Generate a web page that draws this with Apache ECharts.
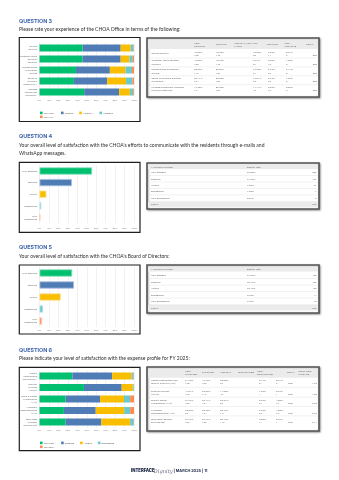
<!DOCTYPE html>
<html>
<head>
<meta charset="utf-8">
<title>CHOA Survey – Questions 3 to 6</title>
<script src="https://cdn.jsdelivr.net/npm/echarts@6/dist/echarts.min.js"></script>
<style>
  html, body { margin: 0; padding: 0; background: #ffffff; }
  #page { width: 339px; height: 480px; }
</style>
</head>
<body>
<div id="page"></div>
<script>
// ---------- Question 3: experience of the CHOA Office ----------
const q3Items = [
  'Service delivery',
  'Customer focus and staff courtesy',
  'Effectiveness of problem solving',
  'Speed in solving a problem or solution',
  'Keeping community informed (emails/WhatsApp)'
];
const q3Levels = ['Very Positive', 'Positive', 'Neutral / Do not know', 'Negative', 'Very Negative'];
const q3Headers = ['VERY\nPOSITIVE', 'POSITIVE', 'NEUTRAL / DO NOT\nKNOW', 'NEGATIVE', 'VERY\nNEGATIVE', 'TOTAL'];
const q3VeryPositive = [45.65, 45.65, 38.59, 36.41, 47.28];
const q3Positive     = [40.22, 40.22, 35.87, 35.33, 36.96];
const q3Neutral      = [10.60,  9.24, 16.58, 19.84, 11.41];
const q3Negative     = [ 2.99,  3.53,  6.79,  6.79,  3.53];
const q3VeryNegative = [ 0.54,  1.36,  2.17,  1.63,  0.82];
const q3VeryPositiveN = [168, 168, 142, 134, 174];
const q3PositiveN     = [148, 148, 132, 130, 136];
const q3NeutralN      = [ 39,  34,  61,  73,  42];
const q3NegativeN     = [ 11,  13,  25,  25,  13];
const q3VeryNegativeN = [  2,   5,   8,   6,   3];
const q3Totals = [368, 368, 368, 368, 368];

// ---------- Question 4: communication via e-mail and WhatsApp ----------
const satisfactionLevels = ['Very Satisfied', 'Satisfied', 'Neutral', 'Dissatisfied', 'Very Dissatisfied'];
const q4Percent = [55.68, 34.32, 7.30, 1.89, 0.81];
const q4Count = [206, 127, 27, 7, 3];
const q4Total = 370;

// ---------- Question 5: Board of Directors ----------
const q5Percent = [34.59, 36.49, 22.43, 3.78, 2.70];
const q5Count = [128, 135, 83, 14, 10];
const q5Total = 370;

// ---------- Question 6: expense profile for FY 2025 ----------
const q6Items = [
  'Capital contribution and reserve fund levy (2%)',
  'Security services (40.2%)',
  'Sport & Estate Maintenance (14%)',
  'Municipal Responsibilities (11%)',
  'Staff costs (Leasing, Services etc)'
];
const q6Headers = ['VERY\nSATISFIED', 'SATISFIED', 'NEUTRAL', 'DISSATISFIED', 'VERY\nDISSATISFIED', 'TOTAL', 'WEIGHTED\nAVERAGE'];
const q6VerySatisfied    = [34.78, 47.01, 27.72, 25.82, 27.72];
const q6Satisfied        = [42.12, 39.95, 36.41, 33.70, 37.77];
const q6Neutral          = [20.38, 11.68, 25.27, 30.16, 30.43];
const q6Dissatisfied     = [ 2.17,  1.09,  6.52,  6.25,  3.80];
const q6VeryDissatisfied = [ 0.54,  0.27,  4.08,  4.08,  0.27];
const q6VerySatisfiedN    = [128, 173, 102,  95, 102];
const q6SatisfiedN        = [155, 147, 134, 124, 139];
const q6NeutralN          = [ 75,  43,  93, 111, 112];
const q6DissatisfiedN     = [  8,   4,  24,  23,  14];
const q6VeryDissatisfiedN = [  2,   1,  15,  15,   1];
const q6Totals = [368, 368, 368, 368, 368];
const q6Weighted = [1.92, 1.68, 2.23, 2.29, 2.11];

const axisTicks = ['0%', '10%', '20%', '30%', '40%', '50%', '60%', '70%', '80%', '90%', '100%'];

// ---------- styling ----------
const palette = ['#00bf6f', '#507cb6', '#f9be00', '#6bc8cd', '#ff8b4f'];
const paletteEdge = ['#86e2ba', '#a9c0de', '#fde08a', '#b6e4e7', '#ffc5a8'];
const FONT = 'Lato, "Noto Sans", sans-serif';
const HEAD_FONT = 'Inter, "Noto Sans", sans-serif';
const TINY = 2.5;

function wrap(text, maxLen, maxLines) {
  const words = text.split(' ');
  const lines = [];
  let cur = '';
  words.forEach(w => {
    if (cur && (cur + ' ' + w).length > maxLen) { lines.push(cur); cur = w; }
    else cur = cur ? cur + ' ' + w : w;
  });
  if (cur) lines.push(cur);
  if (maxLines && lines.length > maxLines) {
    const kept = lines.slice(0, maxLines);
    kept[maxLines - 1] += '...';
    return kept.join('\n');
  }
  return lines.join('\n');
}
const pct = v => v.toFixed(2) + '%';

function txt(x, y, text, o) {
  o = o || {};
  const size = o.size || TINY;
  const align = o.align || 'left';
  const valign = o.valign || 'middle';
  return {
    type: 'text', x, y, silent: true, z: 20,
    style: {
      text, fill: o.fill || '#6a6a6a', fontSize: size, fontFamily: o.family || FONT,
      fontWeight: o.weight || 'normal', fontStyle: o.fontStyle || 'normal',
      align, textAlign: align, verticalAlign: valign, textVerticalAlign: valign,
      lineHeight: o.lh || size * 1.25
    }
  };
}
function rect(x, y, w, h, style, z) {
  return { type: 'rect', silent: true, z: z || 5, shape: { x, y, width: w, height: h }, style };
}
function hline(x1, x2, y, color) {
  return { type: 'line', silent: true, z: 8, shape: { x1, y1: y, x2, y2: y },
    style: { stroke: color || '#dcdcdc', lineWidth: 0.4 } };
}
function tableFrame(x, y, w, h) {
  return rect(x, y, w, h, {
    fill: '#ffffff', stroke: '#555555', lineWidth: 1.6,
    shadowBlur: 2, shadowOffsetX: 0.8, shadowOffsetY: 0.8, shadowColor: 'rgba(0,0,0,0.35)'
  }, 4);
}
function chartBox(x, y, w, h) {
  return rect(x, y, w, h, { fill: 'none', stroke: '#1e1e1e', lineWidth: 1.2 }, 30);
}

const g = [];

// ---------- headings ----------
const headingStyle = { size: 5.4, weight: 'bold', fill: '#3f65ab', family: HEAD_FONT };
const subStyle = { size: 5, fill: '#2e2e2e', family: FONT };
g.push(txt(19, 21.7, 'QUESTION 3', headingStyle));
g.push(txt(19, 29.3, 'Please rate your experience of the CHOA Office in terms of the following:', subStyle));
g.push(txt(19, 136.7, 'QUESTION 4', headingStyle));
g.push(txt(19, 149, "Your overall level of satisfaction with the CHOA's efforts to communicate with the residents through e-mails and\nWhatsApp messages.", Object.assign({ lh: 8 }, subStyle)));
g.push(txt(19, 247.7, 'QUESTION 5', headingStyle));
g.push(txt(19, 256.7, "Your overall level of satisfaction with the CHOA's Board of Directors:", subStyle));
g.push(txt(19, 350, 'QUESTION 6', headingStyle));
g.push(txt(19, 358.3, 'Please indicate your level of satisfaction with the expense profile for FY 2025:', subStyle));

// ---------- chart frames ----------
g.push(chartBox(19.3, 37.5, 120.7, 84));
g.push(chartBox(19.3, 162.3, 120.7, 70));
g.push(chartBox(19.3, 265, 120.7, 69));
g.push(chartBox(19.3, 367.3, 120.7, 83.4));

// ---------- Q3 table ----------
(function () {
  const x0 = 147, y0 = 38, w = 172, h = 59;
  g.push(tableFrame(x0, y0, w, h));
  g.push(rect(x0 + 1, y0 + 1.5, w - 2, 9.5, { fill: '#ebebeb' }, 6));
  const hdrX = [194, 215.7, 234, 266, 284.3, 306];
  const valX = [194, 215.7, 253, 268, 286];
  q3Headers.forEach((t, i) => g.push(txt(hdrX[i], 44.3, t, { lh: 3.2 })));
  const levelsP = [q3VeryPositive, q3Positive, q3Neutral, q3Negative, q3VeryNegative];
  const levelsN = [q3VeryPositiveN, q3PositiveN, q3NeutralN, q3NegativeN, q3VeryNegativeN];
  q3Items.forEach((item, r) => {
    const py = 51.7 + 8.9 * r, cy = py + 3.2;
    g.push(txt(151.5, py + 1.6, wrap(item, 27, 2), { lh: 3.2 }));
    levelsP.forEach((arr, c) => {
      g.push(txt(valX[c], py, pct(arr[r])));
      g.push(txt(valX[c], cy, String(levelsN[c][r])));
    });
    g.push(txt(317, cy, String(q3Totals[r]), { align: 'right' }));
    if (r < q3Items.length - 1) g.push(hline(x0 + 1.5, x0 + w - 1.5, py + 6.3));
  });
})();

// ---------- simple two-column response tables (Q4, Q5) ----------
function responseTable(y0, h, headerY, rowY0, pitch, percents, counts, total) {
  const x0 = 147, w = 172;
  g.push(tableFrame(x0, y0, w, h));
  g.push(rect(x0 + 1, headerY - 2.6, w - 2, 5.2, { fill: '#ebebeb' }, 6));
  g.push(txt(151, headerY, 'ANSWER CHOICES'));
  g.push(txt(246.7, headerY, 'RESPONSES'));
  satisfactionLevels.forEach((lvl, i) => {
    const y = rowY0 + pitch * i;
    g.push(txt(151, y, lvl));
    g.push(txt(247, y, pct(percents[i])));
    g.push(txt(316.5, y, String(counts[i]), { align: 'right' }));
    g.push(hline(x0 + 1.5, x0 + w - 1.5, y + pitch / 2));
  });
  const ty = rowY0 + pitch * satisfactionLevels.length;
  g.push(rect(x0 + 1, ty - 2.8, w - 2, 5.6, { fill: '#ebebeb' }, 6));
  g.push(txt(151, ty, 'TOTAL'));
  g.push(txt(316.5, ty, String(total), { align: 'right' }));
}
responseTable(163, 46, 166.7, 172.3, 6.45, q4Percent, q4Count, q4Total);
responseTable(265, 48, 269, 275.3, 6.5, q5Percent, q5Count, q5Total);

// ---------- Q6 table ----------
(function () {
  const x0 = 147, y0 = 367, w = 172, h = 64;
  g.push(tableFrame(x0, y0, w, h));
  g.push(rect(x0 + 1, y0 + 1.5, w - 2, 9.3, { fill: '#ebebeb' }, 6));
  const hdrX = [185, 202, 220, 238.3, 257, 286.7, 298];
  const valX = [185, 202, 220, 259, 276];
  q6Headers.forEach((t, i) => g.push(txt(hdrX[i], 372.6, t, { lh: 3.2 })));
  const levelsP = [q6VerySatisfied, q6Satisfied, q6Neutral, q6Dissatisfied, q6VeryDissatisfied];
  const levelsN = [q6VerySatisfiedN, q6SatisfiedN, q6NeutralN, q6DissatisfiedN, q6VeryDissatisfiedN];
  const rowY = [380.5, 391, 400.3, 409.7, 419];
  q6Items.forEach((item, r) => {
    const py = rowY[r], cy = py + 3;
    g.push(txt(151, py + 1.5, wrap(item, 24, 3), { lh: 3 }));
    levelsP.forEach((arr, c) => {
      g.push(txt(valX[c], py, pct(arr[r])));
      g.push(txt(valX[c], cy, String(levelsN[c][r])));
    });
    g.push(txt(288, cy, String(q6Totals[r])));
    g.push(txt(317, cy, q6Weighted[r].toFixed(2), { align: 'right' }));
    if (r < q6Items.length - 1) g.push(hline(x0 + 1.5, x0 + w - 1.5, (rowY[r] + rowY[r + 1]) / 2 + 1.5));
  });
})();

// ---------- footer ----------
g.push(txt(131, 471, 'INTERFACE', { size: 4.2, weight: 900, fill: '#1d2846', family: HEAD_FONT }));
g.push(txt(153.6, 471.3, 'Dignity', { size: 5.2, fontStyle: 'italic', fill: '#6f6a86', family: '"DejaVu Serif", serif' }));
g.push(txt(173.5, 471, '| MARCH 2025 | 11', { size: 3.8, weight: 'bold', fill: '#1d2846', family: HEAD_FONT }));

// ---------- axes ----------
const grids = [
  { left: 39.5, top: 42.5, width: 94.5, height: 55 },
  { left: 39.5, top: 165.2, width: 94.5, height: 58 },
  { left: 39.5, top: 267, width: 94.5, height: 60 },
  { left: 39.5, top: 370.25, width: 94.5, height: 57.5 }
].map(o => Object.assign({ outerBoundsMode: 'none', containLabel: false }, o));

const labelMargins = [1.2, 3.2, 1.8, 1.2];
const xAxes = grids.map((_, i) => ({
  type: 'value', gridIndex: i, min: 0, max: 100, interval: 10,
  axisLine: { show: false }, axisTick: { show: false },
  splitLine: { show: true, lineStyle: { color: '#e2e2e2', width: 0.5 } },
  axisLabel: { fontSize: TINY, color: '#8a8a8a', fontFamily: FONT, margin: labelMargins[i],
    formatter: v => axisTicks[Math.round(v / 10)] }
}));
const yCats = [
  q3Items.map(s => wrap(s, 14, 3)),
  satisfactionLevels.map(s => wrap(s, 14, 2)),
  satisfactionLevels.map(s => wrap(s, 14, 2)),
  q6Items.map(s => wrap(s, 15, 3))
];
const yAxes = yCats.map((cats, i) => ({
  type: 'category', gridIndex: i, inverse: true, data: cats,
  axisLine: { show: false }, axisTick: { show: false },
  axisLabel: { fontSize: TINY, color: '#6f6f6f', fontFamily: FONT, margin: 2.4, lineHeight: 3, interval: 0 }
}));

// ---------- series ----------
const series = [];
[q3VeryPositive, q3Positive, q3Neutral, q3Negative, q3VeryNegative].forEach((arr, i) => {
  series.push({ type: 'bar', name: q3Levels[i], stack: 'q3', xAxisIndex: 0, yAxisIndex: 0,
    barWidth: 7, data: arr, itemStyle: { color: palette[i] }, silent: true });
});
function singleBars(values, axis) {
  return {
    type: 'bar', name: 'responses-' + axis, xAxisIndex: axis, yAxisIndex: axis, barWidth: 7.2, silent: true,
    data: values.map((v, i) => ({ value: v, itemStyle: { color: palette[i], borderColor: paletteEdge[i], borderWidth: 0.8 } }))
  };
}
series.push(singleBars(q4Percent, 1));
series.push(singleBars(q5Percent, 2));
[q6VerySatisfied, q6Satisfied, q6Neutral, q6Dissatisfied, q6VeryDissatisfied].forEach((arr, i) => {
  series.push({ type: 'bar', name: satisfactionLevels[i], stack: 'q6', xAxisIndex: 3, yAxisIndex: 3,
    barWidth: 7, data: arr, itemStyle: { color: palette[i] }, silent: true });
});

// ---------- legends (coloured square drawn as a rich-text token) ----------
function legendFor(names, top) {
  const rich = { t: { fontSize: TINY, color: '#5a5a5a', fontFamily: FONT, padding: [0, 0, 0, 1.1] } };
  palette.forEach((c, i) => { rich['m' + i] = { width: 2.6, height: 2.6, backgroundColor: c }; });
  return {
    data: names, left: 35, top, width: 92, orient: 'horizontal', padding: 0,
    icon: 'none', itemWidth: 0, itemHeight: 0, itemGap: 0.9, selectedMode: false,
    formatter: name => '{m' + names.indexOf(name) + '|}{t|' + name + '}',
    textStyle: { width: 16.4, overflow: 'truncate', fontSize: TINY, color: '#5a5a5a', fontFamily: FONT, rich }
  };
}

const chart = echarts.init(document.getElementById('page'), null, { renderer: 'canvas' });
chart.setOption({
  animation: false,
  backgroundColor: '#ffffff',
  grid: grids,
  xAxis: xAxes,
  yAxis: yAxes,
  series,
  legend: [legendFor(q3Levels, 111.4), legendFor(satisfactionLevels, 441.4)],
  graphic: { elements: g }
});
</script>
</body>
</html>
